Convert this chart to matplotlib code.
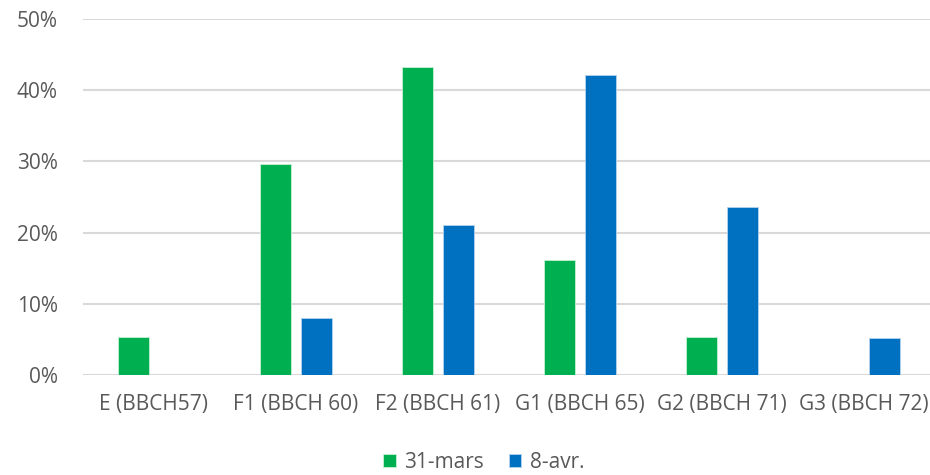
import numpy as np
import matplotlib
matplotlib.use("Agg")
import matplotlib.pyplot as plt
from matplotlib.ticker import PercentFormatter

categories = ["E (BBCH57)", "F1 (BBCH 60)", "F2 (BBCH 61)", "G1 (BBCH 65)", "G2 (BBCH 71)", "G3 (BBCH 72)"]
mars31 = [0.054, 0.297, 0.432, 0.162, 0.054, 0.0]
avr8 = [0.0, 0.080, 0.211, 0.422, 0.236, 0.052]
series_names = ["31-mars", "8-avr."]

plt.rcParams['font.family'] = ['Open Sans', 'DejaVu Sans']
txt = '#595959'
fs = 15

fig = plt.figure(figsize=(9.3, 4.75), dpi=100)
ax = fig.add_axes([0.0892, 0.2105, 0.9162, 0.7495])

x = np.arange(len(categories))
w = 0.218
ax.bar(x - 0.144, mars31, w, color='#00b050', edgecolor='#c6efd3', linewidth=0.6, label=series_names[0], zorder=3)
ax.bar(x + 0.144, avr8, w, color='#0070c0', edgecolor='#b4d3ee', linewidth=0.6, label=series_names[1], zorder=3)

ax.set_xlim(-0.5, len(categories) - 0.5)
ax.set_ylim(0, 0.5)
ax.set_yticks(np.arange(0, 0.51, 0.1))
ax.yaxis.set_major_formatter(PercentFormatter(1.0, decimals=0))
ax.grid(axis='y', color='#d9d9d9', linewidth=1.5, zorder=0)
ax.set_xticks(x)
ax.set_xticklabels(categories)
for s in ax.spines.values():
    s.set_visible(False)
ax.tick_params(axis='both', length=0, labelsize=fs, colors=txt)
ax.tick_params(axis='x', pad=14)
ax.tick_params(axis='y', pad=18)

fig.legend(loc='center', bbox_to_anchor=(0.52, 0.027), ncol=2, frameon=False,
           fontsize=fs, labelcolor=txt, handlelength=0.6, handleheight=0.6,
           handletextpad=0.4, columnspacing=1.2)

fig.savefig("out.png", dpi=100)
